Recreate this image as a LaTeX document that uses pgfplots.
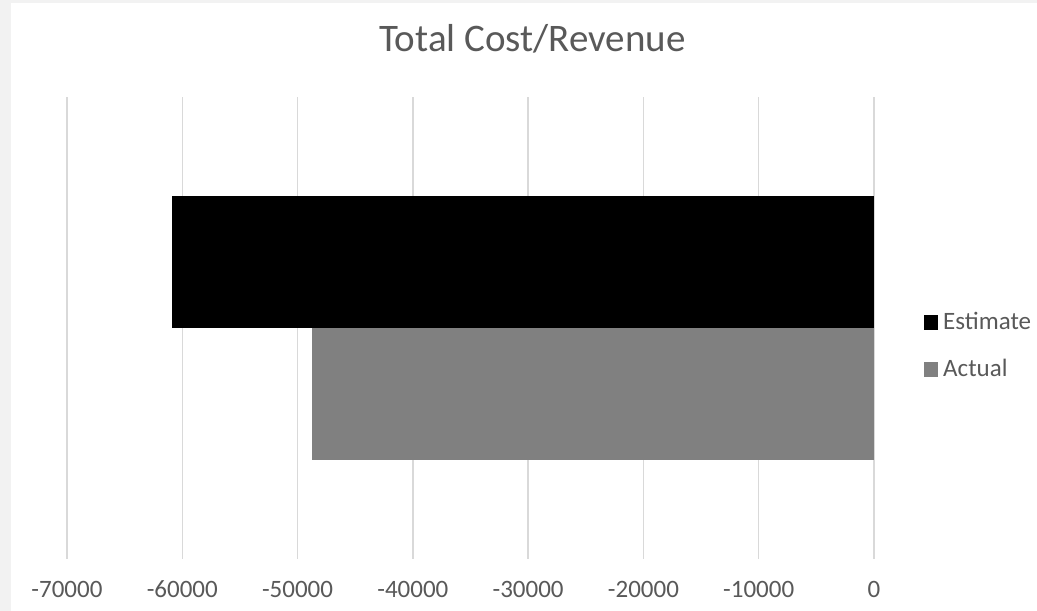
\documentclass[border=0pt]{standalone}
\usepackage{pgfplots}
\pgfplotsset{compat=1.18}
\usepackage{fontspec}
\setmainfont{Carlito}
\definecolor{txt}{HTML}{595959}
\definecolor{gridc}{HTML}{D9D9D9}
\definecolor{bgc}{HTML}{F2F2F2}
\definecolor{actc}{HTML}{808080}
\begin{document}
\begin{tikzpicture}[x=1bp,y=1bp]
\useasboundingbox (0,0) rectangle (1037,611);
\fill[bgc] (0,0) rectangle (1037,611);
\fill[white] (11,0) rectangle (1037,608);
\node[anchor=base, font=\fontsize{39bp}{44bp}\selectfont, text=txt, inner sep=0] at (532.5,559) {Total Cost/Revenue};
\begin{axis}[
  at={(67bp,52bp)}, anchor=south west,
  scale only axis, width=807bp, height=462bp,
  xmin=-70000, xmax=0, ymin=0, ymax=1,
  xtick={-70000,-60000,...,0},
  ytick=\empty,
  xmajorgrids, grid style={gridc, line width=1.4bp},
  axis line style={draw=none},
  tick style={draw=none},
  /pgf/number format/assume math mode=true,
  scaled x ticks=false,
  xticklabel={\pgfmathprintnumber[fixed,1000 sep={}]{\tick}},
  xticklabel style={font=\fontsize{25bp}{30bp}\selectfont, text=txt, anchor=base, yshift=-39bp, inner sep=0},
  xbar, bar width=0.2857, bar shift=0pt,
  legend image code/.code={\fill[#1] (0bp,0bp) rectangle (14bp,15bp);},
  legend style={draw=none, fill=none, at={(axis description cs:1.062,0.54)}, anchor=north west,
    font=\fontsize{25bp}{30bp}\selectfont, text=txt, row sep=22bp, inner sep=0,
    nodes={inner sep=3bp, anchor=base west}, column sep=2bp},
  legend cell align=left,
]
\addplot[fill=black, draw=none] coordinates {(-60900,0.643)};
\addplot[fill=actc, draw=none] coordinates {(-48750,0.357)};
\legend{Estimate,Actual}
\end{axis}
\end{tikzpicture}
\end{document}
